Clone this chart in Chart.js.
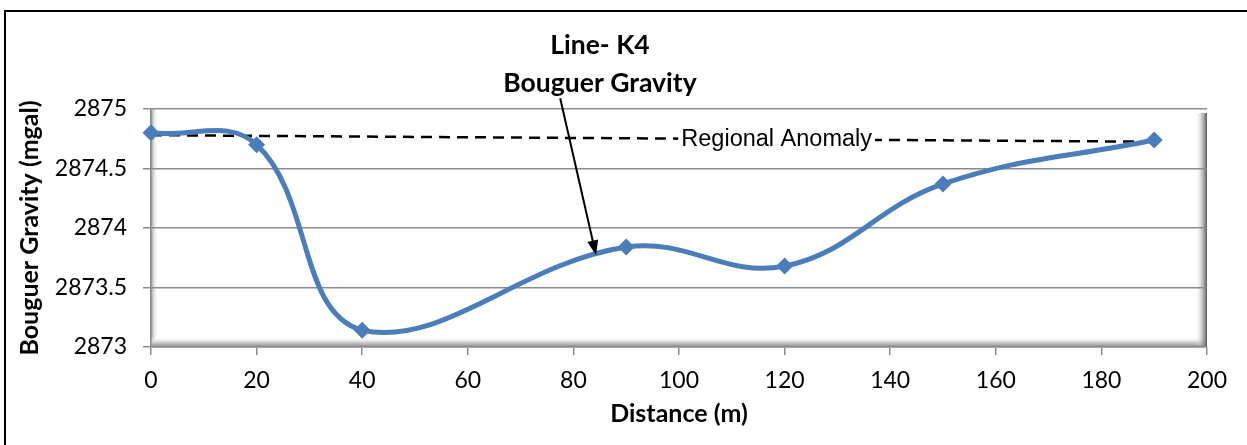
<!DOCTYPE html>
<html lang="en">
<head>
<meta charset="UTF-8">
<title>Line- K4 Bouguer Gravity</title>
<script src="https://cdn.jsdelivr.net/npm/chart.js"></script>
<style>
  body { margin: 0; background: #fff; }
  #wrap { width: 1247px; height: 445px; }
</style>
</head>
<body>
<div id="wrap"><canvas id="chart" width="1247" height="445"></canvas></div>
<script>
// values
const distance = [0, 20, 40, 90, 120, 150, 190];
const gravity = [2874.80, 2874.70, 2873.14, 2873.84, 2873.68, 2874.37, 2874.74];
const regionalX = [0, 190];
const regionalY = [2874.78, 2874.725];
const titleLines = ['Line- K4', 'Bouguer Gravity'];
const regionalLabel = 'Regional Anomaly';
const regionalLabelAt = 118.5;         // distance where the label sits on the dashed line
const arrowFrom = [77.5, 2875.09];     // arrow from title down to the curve (data units)
const arrowTo = [84.3, 2873.77];

const BLUE = '#4A7EBB';
const GRID = '#8c8c8c';

Chart.defaults.font.family = 'Lato';
Chart.defaults.color = '#000';

const decor = {
  id: 'decor',
  beforeDraw(chart) {
    const { ctx, chartArea: a } = chart;
    ctx.save();
    ctx.fillStyle = '#fff';
    ctx.fillRect(0, 0, chart.width, chart.height);
    // left wall shade
    let g = ctx.createLinearGradient(a.left, 0, a.left + 7, 0);
    g.addColorStop(0, '#9a9a9a');
    g.addColorStop(1, 'rgba(255,255,255,0)');
    ctx.fillStyle = g;
    ctx.fillRect(a.left, a.top, 7, a.bottom - a.top);
    // floor
    g = ctx.createLinearGradient(0, a.bottom - 10, 0, a.bottom);
    g.addColorStop(0, 'rgba(255,255,255,0)');
    g.addColorStop(0.5, '#d4d4d4');
    g.addColorStop(1, '#8a8a8a');
    ctx.fillStyle = g;
    ctx.fillRect(a.left, a.bottom - 10, a.right - a.left, 10);
    // right side wall
    g = ctx.createLinearGradient(a.right - 12, 0, a.right, 0);
    g.addColorStop(0, 'rgba(255,255,255,0)');
    g.addColorStop(1, '#5a5a5a');
    ctx.fillStyle = g;
    ctx.fillRect(a.right - 12, a.top + 4, 12, a.bottom - a.top - 4);
    ctx.restore();
  },
  afterDatasetsDraw(chart) {
    const { ctx } = chart;
    const xs = chart.scales.x, ys = chart.scales.y;
    ctx.save();

    // regional anomaly label on the dashed line
    const t = (regionalLabelAt - regionalX[0]) / (regionalX[1] - regionalX[0]);
    const ly = ys.getPixelForValue(regionalY[0] + t * (regionalY[1] - regionalY[0]));
    const lx = xs.getPixelForValue(regionalLabelAt);
    ctx.font = '23.5px "Liberation Sans"';
    const w = ctx.measureText(regionalLabel).width;
    ctx.fillStyle = '#fff';
    ctx.fillRect(lx - w / 2 - 3, ly - 12, w + 6, 24);
    ctx.fillStyle = '#000';
    ctx.textAlign = 'center';
    ctx.textBaseline = 'middle';
    ctx.fillText(regionalLabel, lx, ly);

    // arrow
    const x1 = xs.getPixelForValue(arrowFrom[0]), y1 = ys.getPixelForValue(arrowFrom[1]);
    const x2 = xs.getPixelForValue(arrowTo[0]), y2 = ys.getPixelForValue(arrowTo[1]);
    const ang = Math.atan2(y2 - y1, x2 - x1);
    ctx.strokeStyle = '#000';
    ctx.lineWidth = 2;
    ctx.beginPath();
    ctx.moveTo(x1, y1);
    ctx.lineTo(x2 - 12 * Math.cos(ang), y2 - 12 * Math.sin(ang));
    ctx.stroke();
    ctx.fillStyle = '#000';
    ctx.beginPath();
    ctx.moveTo(x2, y2);
    ctx.lineTo(x2 - 15 * Math.cos(ang) + 5.5 * Math.sin(ang), y2 - 15 * Math.sin(ang) - 5.5 * Math.cos(ang));
    ctx.lineTo(x2 - 15 * Math.cos(ang) - 5.5 * Math.sin(ang), y2 - 15 * Math.sin(ang) + 5.5 * Math.cos(ang));
    ctx.closePath();
    ctx.fill();

    // title
    ctx.font = 'bold 26.5px Lato';
    ctx.textBaseline = 'alphabetic';
    ctx.fillText(titleLines[0], 600, 54);
    ctx.fillText(titleLines[1], 600, 92);

    // outer frame
    ctx.lineWidth = 2;
    ctx.beginPath();
    ctx.moveTo(5, chart.height);
    ctx.lineTo(5, 11);
    ctx.lineTo(chart.width, 11);
    ctx.stroke();
    ctx.restore();
  }
};

new Chart(document.getElementById('chart'), {
  type: 'line',
  data: {
    datasets: [
      {
        label: 'Bouguer Gravity',
        data: distance.map((d, i) => ({ x: d, y: gravity[i] })),
        borderColor: BLUE,
        backgroundColor: BLUE,
        borderWidth: 5,
        tension: 0.4,
        pointStyle: 'rectRot',
        pointRadius: 8.5,
        pointBorderWidth: 0,
        clip: false
      },
      {
        label: 'Regional Anomaly',
        data: regionalX.map((d, i) => ({ x: d, y: regionalY[i] })),
        borderColor: '#000',
        borderWidth: 2.5,
        borderDash: [11, 7],
        pointRadius: 0,
        tension: 0,
        clip: false
      }
    ]
  },
  options: {
    responsive: false,
    animation: false,
    layout: { padding: { top: 109, right: 40, left: 0, bottom: 0 } },
    plugins: { legend: { display: false }, tooltip: { enabled: false } },
    scales: {
      x: {
        type: 'linear',
        min: 0, max: 200,
        afterFit: s => { s.height = 98; },
        ticks: { stepSize: 20, font: { size: 23 }, padding: 12, color: '#000' },
        grid: { drawOnChartArea: false, tickLength: 8, color: GRID, lineWidth: 1.5 },
        border: { color: GRID, width: 1.5 },
        title: { display: true, text: 'Distance (m)', font: { size: 25, weight: 'bold' }, color: '#000', padding: { top: 0, bottom: 16 } }
      },
      y: {
        min: 2873, max: 2875,
        afterFit: s => { s.width = 151; },
        ticks: { stepSize: 0.5, font: { size: 23 }, padding: 16, color: '#000', callback: v => String(v) },
        grid: { tickLength: 8, color: GRID, lineWidth: 1.5 },
        border: { color: GRID, width: 1.5 },
        title: { display: true, text: 'Bouguer Gravity (mgal)', font: { size: 25, weight: 'bold' }, color: '#000', padding: { top: 15, bottom: 0 } }
      }
    }
  },
  plugins: [decor]
});
</script>
</body>
</html>
